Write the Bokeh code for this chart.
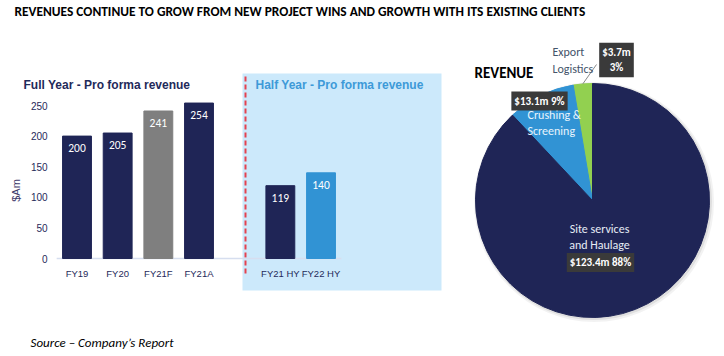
import math
from bokeh.plotting import figure
from bokeh.models import (ColumnDataSource, Range1d, LabelSet, Label,
                          BoxAnnotation, FixedTicker, LinearAxis)
from bokeh.layouts import row, column
from bokeh.embed import file_html
from bokeh.resources import INLINE
from bokeh.core.properties import value

# ---------------- data ----------------
title_text = "REVENUES CONTINUE TO GROW FROM NEW PROJECT WINS AND GROWTH WITH ITS EXISTING CLIENTS"
source_text = "Source \u2013 Company\u2019s Report"
full_title = "Full Year - Pro forma  revenue"
half_title = "Half Year - Pro forma  revenue"

full_year = ["FY19", "FY20", "FY21F", "FY21A"]
full_rev = [200, 205, 241, 254]
half_year = ["FY21 HY", "FY22 HY"]
half_rev = [119, 140]
y_ticks = [0, 50, 100, 150, 200, 250]
y_label = "$Am"

segments = ["Export\nLogistics", "Crushing &\nScreening", "Site services\nand Haulage"]
seg_rev = [3.7, 13.1, 123.4]
pie_title = "REVENUE"

# ---------------- styles ----------------
NAVY = "#1f2556"
GREY = "#7f7f7f"
BLUE = "#3193d4"
GREEN = "#92d050"
PANEL = "#cce9fb"
TXT = "#1f2a5a"
ARIAL = "'Liberation Sans', Arial, sans-serif"
CAL = "Carlito, 'Liberation Sans Narrow', 'Open Sans', sans-serif"
bar_colors = [NAVY, NAVY, GREY, NAVY, NAVY, BLUE]
pie_colors = [GREEN, BLUE, NAVY]

W, H = 724, 356
TOP = 24  # height of the title strip

# reference pixel -> data helpers (for annotation placement only)
SLOT = 40.67
def rx(px):
    return (px - 76.5) / SLOT

def ry(py):
    return (258 - py) / 0.612

# category slots: full-year bars, one empty slot, half-year bars
order = full_year + [None] + half_year
slot = {c: i for i, c in enumerate(order) if c is not None}
cats = full_year + half_year
vals = full_rev + half_rev
xs = [slot[c] for c in cats]

# ---------------- title strip ----------------
t = figure(width=W, height=TOP, x_range=Range1d(0, W), y_range=Range1d(0, TOP),
           output_backend="svg", toolbar_location=None, min_border=0,
           x_axis_location=None, y_axis_location=None, outline_line_color=None)
t.grid.visible = False
t.add_layout(Label(x=14, y=TOP - 11, text=title_text, text_align="left",
                   text_baseline="middle", text_font_style="bold", text_font_size="13.4px",
                   text_color="black", text_font=CAL))

# ---------------- bar chart ----------------
W1 = 470
p = figure(width=W1, height=H - TOP, x_range=Range1d(rx(0), rx(W1)),
           y_range=Range1d(ry(H), ry(TOP)),
           output_backend="svg", toolbar_location=None, min_border=0,
           x_axis_location=None, y_axis_location=None, outline_line_color=None)
p.grid.visible = False

p.add_layout(BoxAnnotation(left=rx(242), right=rx(441), top=ry(73), bottom=ry(290),
                           fill_color=PANEL, fill_alpha=1, line_color=None, level="underlay"))
p.segment(x0=rx(245), y0=ry(273), x1=rx(245), y1=ry(73), line_color="#e5424f",
          line_width=2, line_dash="5 3")

# baseline under the bars
p.segment(x0=min(xs) - 0.5, y0=0, x1=max(xs) + 0.5, y1=0, line_color="#d6deef", line_width=1.5)

src = ColumnDataSource(dict(x=xs, top=vals, color=bar_colors, label=[str(v) for v in vals]))
p.vbar(x="x", top="top", bottom=0, width=0.71, color="color", source=src)
p.add_layout(LabelSet(x="x", y="top", text="label", source=src, y_offset=-12,
                      text_align="center", text_baseline="middle", text_color="white",
                      text_font_size="11.5px", text_font=value(CAL)))

yax = LinearAxis(ticker=FixedTicker(ticks=y_ticks), fixed_location=min(xs) - 0.5)
yax.axis_line_color = None
yax.major_tick_line_color = None
yax.minor_tick_line_color = None
yax.major_tick_out = 0
yax.major_tick_in = 0
yax.major_label_standoff = 9
yax.major_label_text_font_size = "10px"
yax.major_label_text_color = TXT
yax.major_label_text_font = ARIAL
yax.axis_label = y_label
yax.axis_label_text_font_style = "normal"
yax.axis_label_text_font_size = "11px"
yax.axis_label_text_color = "#3f3b6b"
yax.axis_label_text_font = ARIAL
yax.axis_label_standoff = 6
p.add_layout(yax, "left")

xax = LinearAxis(ticker=FixedTicker(ticks=xs), fixed_location=0,
                 major_label_overrides={x: c for x, c in zip(xs, cats)})
xax.axis_line_color = None
xax.major_tick_line_color = None
xax.minor_tick_line_color = None
xax.major_tick_out = 0
xax.major_tick_in = 0
xax.major_label_standoff = 9
xax.major_label_text_font_size = "9.5px"
xax.major_label_text_color = TXT
xax.major_label_text_font = ARIAL
p.add_layout(xax, "below")

p.add_layout(Label(x=rx(23), y=ry(84), text=full_title, text_align="left",
                   text_baseline="middle", text_font_style="bold", text_font_size="12px",
                   text_color=TXT, text_font=ARIAL))
p.add_layout(Label(x=rx(255), y=ry(84), text=half_title, text_align="left",
                   text_baseline="middle", text_font_style="bold", text_font_size="12px",
                   text_color="#3d9ad8", text_font=ARIAL))
p.add_layout(Label(x=rx(30), y=ry(342), text=source_text, text_align="left",
                   text_baseline="middle", text_font_style="italic", text_font_size="13px",
                   text_color="black", text_font=CAL))

# ---------------- pie chart ----------------
W2 = W - W1
CY = 200 - TOP  # pie centre, pixels from top of the pie figure
q = figure(width=W2, height=H - TOP, x_range=Range1d(-122, W2 - 122),
           y_range=Range1d(CY - (H - TOP), CY),
           output_backend="svg", toolbar_location=None, min_border=0,
           x_axis_location=None, y_axis_location=None, outline_line_color=None)
q.grid.visible = False

# soft shadow
q.circle(x=1.5, y=-1.5, radius=120, fill_color="black", fill_alpha=0.05, line_color=None)
q.circle(x=1, y=-1, radius=118.5, fill_color="black", fill_alpha=0.08, line_color=None)

total = sum(seg_rev)
fracs = [v / total for v in seg_rev]
starts, ends = [], []
acc = 0.0
for f in fracs:
    starts.append(math.pi / 2 + acc * 2 * math.pi)
    acc += f
    ends.append(math.pi / 2 + acc * 2 * math.pi)
psrc = ColumnDataSource(dict(start=starts, end=ends, color=pie_colors))
q.wedge(x=0, y=0, radius=117, start_angle="start", end_angle="end", fill_color="color",
        line_color="color", source=psrc)

pct = [round(f * 100) for f in fracs]
mid0 = (starts[0] + ends[0]) / 2
q.segment(x0=117 * math.cos(mid0), y0=117 * math.sin(mid0), x1=4, y1=136,
          line_color="#8a8a8a", line_width=1)

q.add_layout(Label(x=-118, y=128, text=pie_title, text_align="left", text_baseline="middle",
                   text_font_style="bold", text_font_size="15px", text_color="black",
                   text_font=CAL))
q.add_layout(Label(x=-40, y=140, text=segments[0], text_align="left", text_baseline="middle",
                   text_font_size="12px", text_color="#44546a", text_font=CAL))
q.add_layout(Label(x=-65, y=77.5, text=segments[1], text_align="left", text_baseline="middle",
                   text_font_size="12px", text_color="#e8f4fc", text_font=CAL))
q.add_layout(Label(x=7, y=-36.5, text=segments[2], text_align="center", text_baseline="middle",
                   text_font_size="12px", text_color="#e6ecf5", text_font=CAL))

def box_label(x, y, text):
    return Label(x=x, y=y, text=text, text_align="center", text_baseline="middle",
                 text_font_style="bold", text_font_size="11px", text_color="white",
                 text_font=CAL, background_fill_color="#3a3a3a",
                 background_fill_alpha=1, padding=3)

q.add_layout(box_label(24, 140.5, f"${seg_rev[0]}m\n{pct[0]}%"))
q.add_layout(box_label(-53, 99.5, f"${seg_rev[1]}m {pct[1]}%"))
q.add_layout(box_label(8, -62, f"${seg_rev[2]}m {pct[2]}%"))

layout = column(t, row(p, q, spacing=0), spacing=0)
open("out.html", "w").write(file_html(layout, INLINE))
